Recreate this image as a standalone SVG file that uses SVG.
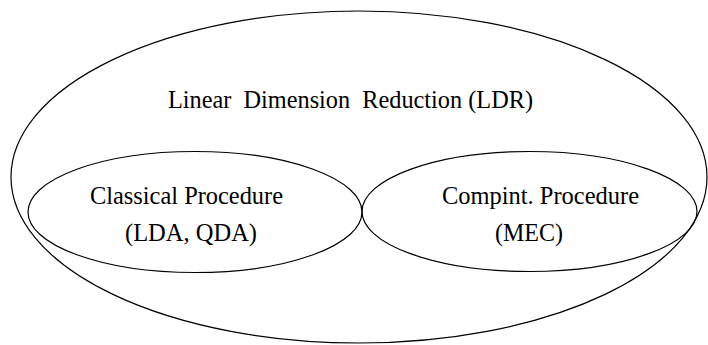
<svg xmlns="http://www.w3.org/2000/svg" width="708" height="345" viewBox="0 0 708 345">
<style>
.e{fill:none;stroke:#000;stroke-width:1.2}
.t{font-family:'Liberation Serif','Times New Roman',serif;font-size:25px;fill:#000}
</style>
<rect width="708" height="345" fill="#fff"/>
<g id="ldr">
<ellipse class="e" cx="359" cy="177" rx="348" ry="166"/>
<text class="t" x="168" y="108" xml:space="preserve" textLength="365" lengthAdjust="spacingAndGlyphs">Linear  Dimension  Reduction (LDR)</text>
</g>
<g id="classical">
<ellipse class="e" cx="195" cy="212" rx="167" ry="60.5"/>
<text class="t" x="90" y="204" textLength="193" lengthAdjust="spacingAndGlyphs">Classical Procedure</text>
<text class="t" x="125" y="241" textLength="132" lengthAdjust="spacingAndGlyphs">(LDA, QDA)</text>
</g>
<g id="compint">
<ellipse class="e" cx="529.5" cy="211.5" rx="167.5" ry="60"/>
<text class="t" x="442" y="204" textLength="197" lengthAdjust="spacingAndGlyphs">Compint. Procedure</text>
<text class="t" x="495" y="241" textLength="68" lengthAdjust="spacingAndGlyphs">(MEC)</text>
</g>
<g id="connectors"></g>
</svg>
